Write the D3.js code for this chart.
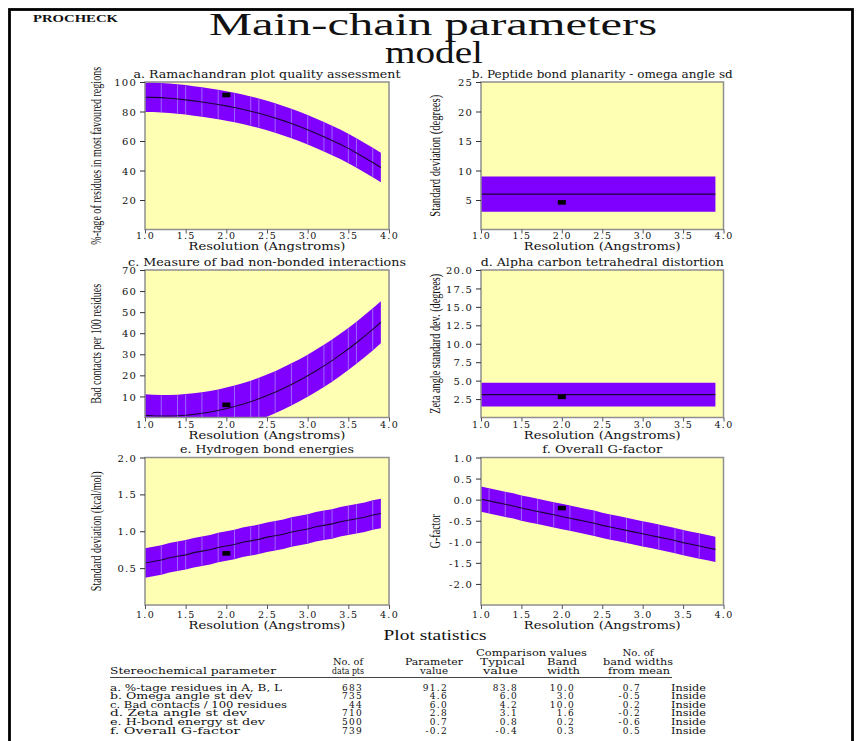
<!DOCTYPE html>
<html>
<head>
<meta charset="utf-8">
<script src="https://cdn.jsdelivr.net/npm/d3@7"></script>
<style>
  html, body { margin: 0; padding: 0; background: #fff; }
  svg { display: block; }
</style>
</head>
<body>
<svg id="chart" width="856" height="741"></svg>
<script>
// ---------------- data ----------------
const resolution = [1.0, 1.1, 1.2, 1.3, 1.4, 1.5, 1.6, 1.7, 1.8, 1.9,
                    2.0, 2.1, 2.2, 2.3, 2.4, 2.5, 2.6, 2.7, 2.8, 2.9,
                    3.0, 3.1, 3.2, 3.3, 3.4, 3.5, 3.6, 3.7, 3.8, 3.9];
const flatResolution = [1.0, 3.9];

// mean curves of the comparison bands
const ramaMean = [89.7, 89.6, 89.4, 89.0, 88.5, 87.9, 87.2, 86.4, 85.6, 84.7,
                  83.8, 82.7, 81.5, 80.2, 78.8, 77.3, 75.6, 73.8, 71.9, 69.8,
                  67.6, 65.3, 62.9, 60.4, 57.8, 55.0, 51.9, 48.7, 45.4, 42.0];
const omegaMean = [6.0, 6.0];
const contactsMean = [1.0, 0.8, 0.7, 0.7, 0.8, 1.1, 1.5, 2.0, 2.6, 3.3,
                      4.2, 5.2, 6.3, 7.5, 8.9, 10.4, 12.0, 13.8, 15.7, 17.7,
                      19.8, 22.1, 24.5, 27.0, 29.7, 32.5, 35.5, 38.6, 41.8, 45.2];
const zetaMean = [3.1, 3.1];
const hbondMean = [0.57, 0.59, 0.61, 0.64, 0.66, 0.68, 0.71, 0.73, 0.75, 0.78,
                   0.80, 0.82, 0.85, 0.87, 0.89, 0.92, 0.94, 0.96, 0.99, 1.01,
                   1.03, 1.06, 1.08, 1.10, 1.13, 1.15, 1.17, 1.19, 1.22, 1.24];
const gfactorMean = [0.01, -0.03, -0.07, -0.11, -0.15, -0.20, -0.24, -0.28, -0.32, -0.36,
                     -0.40, -0.44, -0.48, -0.52, -0.56, -0.61, -0.65, -0.69, -0.73, -0.77,
                     -0.81, -0.85, -0.89, -0.93, -0.97, -1.02, -1.06, -1.10, -1.14, -1.18];

// polygon joins that show as light seams inside the bands
const seamsRama = [1.2, 1.4, 1.5, 1.7, 1.9, 2.1, 2.3, 2.4, 2.6, 2.8, 3.0, 3.2, 3.3, 3.5, 3.6, 3.8];
const seamsContacts = [1.2, 1.4, 1.5, 1.7, 1.9, 2.1, 2.3, 2.4, 2.6, 2.8, 3.0, 3.2, 3.3, 3.5, 3.6, 3.8];
const seamsHbond = [1.2, 1.4, 1.5, 1.7, 1.9, 2.1, 2.3, 2.4, 2.6, 2.8, 3.0, 3.2, 3.3, 3.5, 3.6, 3.8];
const seamsGfactor = [1.1, 1.3, 1.5, 1.7, 1.9, 2.1, 2.4, 2.6, 2.8, 3.0, 3.2, 3.4, 3.5, 3.7];

// plot statistics table
const parameterNames = ["a. %-tage residues in A, B, L", "b. Omega angle st dev",
                        "c. Bad contacts / 100 residues", "d. Zeta angle st dev",
                        "e. H-bond energy st dev", "f. Overall G-factor"];
const dataPoints = [683, 735, 44, 710, 500, 739];
const parameterValue = [91.2, 4.6, 6.0, 2.8, 0.7, -0.2];
const typicalValue = [83.8, 6.0, 4.2, 3.1, 0.8, -0.4];
const bandWidth = [10.0, 3.0, 10.0, 1.6, 0.2, 0.3];
const bandWidthsFromMean = [0.7, -0.5, 0.2, -0.2, -0.6, 0.5];
const verdict = ["Inside", "Inside", "Inside", "Inside", "Inside", "Inside"];
const modelResolution = 2.0;

// panel text and axes
const panelTitles = ["a. Ramachandran plot quality assessment",
                     "b. Peptide bond planarity - omega angle sd",
                     "c. Measure of bad non-bonded interactions",
                     "d. Alpha carbon tetrahedral distortion",
                     "e. Hydrogen bond energies",
                     "f. Overall G-factor"];
const yAxisTitles = ["%-tage of residues in most favoured regions",
                     "Standard deviation (degrees)",
                     "Bad contacts per 100 residues",
                     "Zeta angle standard dev. (degrees)",
                     "Standard deviation (kcal/mol)",
                     "G-factor"];
const yDomains = [[0, 100], [0, 25], [0, 70], [0, 20], [0, 2], [-2.5, 1]];
const yTicks = [[20, 40, 60, 80, 100],
                [5, 10, 15, 20, 25],
                [10, 20, 30, 40, 50, 60, 70],
                [2.5, 5, 7.5, 10, 12.5, 15, 17.5, 20],
                [0.5, 1.0, 1.5, 2.0],
                [-2.0, -1.5, -1.0, -0.5, 0.0, 0.5, 1.0]];
const yTickFormats = ["d", "d", "d", ".1f", ".1f", ".1f"];
const xTicks = [1.0, 1.5, 2.0, 2.5, 3.0, 3.5, 4.0];
const xDomain = [1.0, 4.0];

// ---------------- layout & style ----------------
const TIMES = "'Liberation Serif', 'Times New Roman', serif";
const SCHOOL = "'DejaVu Serif', serif";
const INK = "#111";
const PLOT_BG = "#ffffb3";
const BAND = "#7f00ff";
const SEAM = "#a064ff";
const MEAN = "#1c0038";
const FRAME = "#8f8f8f";

const colLeft = [145, 481], colWidth = [244, 242.5];
const rowTop = [82, 270, 457.5], rowHeight = 147.5;
const tickLabelDrop = [9.5, 10, 12.5];
const xTitleDrop = [20.5, 21, 23.5];
const titleLen = [267, 261, 278, 243, 174, 120];
const yTitleLen = [178, 122, 120, 140, 120, 34];
const yTitleX = [101, 440];

// plain hyphen for negative numbers, as in the printed report
const loc = d3.formatLocale({ decimal: ".", thousands: ",", grouping: [3], currency: ["", ""], minus: "-" });
const f1 = loc.format(".1f");

const svg = d3.select("#chart");

function txt(sel, str, x, y, o) {
  const t = sel.append("text").attr("x", x).attr("y", y).text(str)
    .attr("font-family", o.font || SCHOOL)
    .attr("font-size", o.size || 10)
    .attr("text-anchor", o.anchor || "start")
    .attr("fill", o.fill || INK);
  if (o.len) t.attr("textLength", o.len).attr("lengthAdjust", "spacingAndGlyphs");
  if (o.weight) t.attr("font-weight", o.weight);
  if (o.ls) t.attr("letter-spacing", o.ls);
  return t;
}

// vertical label squeezed to a given length along its baseline
function vtxt(sel, str, x, y, size, len) {
  const t = sel.append("text").attr("x", 0).attr("y", 0).text(str)
    .attr("font-family", TIMES).attr("font-size", size)
    .attr("text-anchor", "middle").attr("fill", INK);
  const natural = t.node().getComputedTextLength() || len;
  t.attr("transform", `translate(${x},${y}) rotate(-90) scale(${len / natural},1)`);
  return t;
}

// page frame
svg.append("rect").attr("x", 9.5).attr("y", 9.5).attr("width", 843).attr("height", 780)
  .attr("fill", "none").attr("stroke", "#000").attr("stroke-width", 2.8);

// headings
txt(svg, "PROCHECK", 33, 21.5, { font: TIMES, size: 11, weight: "bold", len: 85 });
txt(svg, "Main-chain parameters", 433, 35, { font: TIMES, size: 31, anchor: "middle", len: 448 });
txt(svg, "model", 434, 63, { font: TIMES, size: 32, anchor: "middle", len: 98 });

const panels = [
  { res: resolution, mean: ramaMean, seams: seamsRama },
  { res: flatResolution, mean: omegaMean, seams: [] },
  { res: resolution, mean: contactsMean, seams: seamsContacts },
  { res: flatResolution, mean: zetaMean, seams: [] },
  { res: resolution, mean: hbondMean, seams: seamsHbond },
  { res: resolution, mean: gfactorMean, seams: seamsGfactor }
];

panels.forEach((p, i) => {
  const c = i % 2, r = Math.floor(i / 2);
  const L = colLeft[c], W = colWidth[c], T = rowTop[r], H = rowHeight;
  const x = d3.scaleLinear().domain(xDomain).range([L, L + W]);
  const y = d3.scaleLinear().domain(yDomains[i]).range([T + H, T]);
  const bw = bandWidth[i];
  const g = svg.append("g");

  g.append("clipPath").attr("id", "clip" + i)
    .append("rect").attr("x", L).attr("y", T).attr("width", W).attr("height", H);
  g.append("rect").attr("x", L).attr("y", T).attr("width", W).attr("height", H)
    .attr("fill", PLOT_BG);

  const pts = p.res.map((rv, k) => ({ r: rv, m: p.mean[k] }));
  const plot = g.append("g").attr("clip-path", `url(#clip${i})`);

  plot.append("path").datum(pts)
    .attr("d", d3.area().x(d => x(d.r)).y0(d => y(d.m - bw)).y1(d => y(d.m + bw)))
    .attr("fill", BAND);

  plot.selectAll("line.seam").data(p.seams).join("line").attr("class", "seam")
    .each(function (s) {
      const k = d3.bisector(d => d.r).left(pts, s - 1e-6);
      const m = pts[k].m;
      d3.select(this)
        .attr("x1", x(s)).attr("x2", x(s))
        .attr("y1", y(m - bw) - 0.5).attr("y2", y(m + bw) + 0.5);
    })
    .attr("stroke", SEAM).attr("stroke-width", 1);

  plot.append("path").datum(pts)
    .attr("d", d3.line().x(d => x(d.r)).y(d => y(d.m)))
    .attr("fill", "none").attr("stroke", MEAN).attr("stroke-width", 1.1);

  // the model's own value
  plot.append("rect")
    .attr("x", x(modelResolution) - 4).attr("y", y(parameterValue[i]) - 2.3)
    .attr("width", 8).attr("height", 4.6).attr("fill", "#000");

  g.append("rect").attr("x", L).attr("y", T).attr("width", W).attr("height", H)
    .attr("fill", "none").attr("stroke", FRAME).attr("stroke-width", 1.5);

  // axes
  const xa = g.append("g").attr("transform", `translate(0,${T + H})`)
    .call(d3.axisBottom(x).tickValues(xTicks).tickSize(4).tickFormat(f1));
  xa.select(".domain").remove();
  xa.selectAll(".tick line").attr("stroke", "#555");
  xa.selectAll(".tick text").attr("y", tickLabelDrop[r]).attr("dy", null)
    .attr("font-family", SCHOOL).attr("font-size", 9.5).attr("letter-spacing", 1.3).attr("fill", INK);

  const ya = g.append("g").attr("transform", `translate(${L},0)`)
    .call(d3.axisLeft(y).tickValues(yTicks[i]).tickSize(5).tickFormat(loc.format(yTickFormats[i])));
  ya.select(".domain").remove();
  ya.selectAll(".tick line").attr("stroke", "#333");
  ya.selectAll(".tick text").attr("x", -8).attr("dy", "0.36em")
    .attr("font-family", SCHOOL).attr("font-size", 10).attr("letter-spacing", 1.2).attr("fill", INK);

  // titles
  txt(g, panelTitles[i], L + W / 2, T - 4.5, { size: 11, anchor: "middle", len: titleLen[i] });
  txt(g, "Resolution (Angstroms)", L + W / 2, T + H + xTitleDrop[r], { size: 10.5, anchor: "middle", len: 157 });
  vtxt(g, yAxisTitles[i], yTitleX[c], T + H / 2, 15, yTitleLen[i]);
});

// ---------------- plot statistics table ----------------
const tb = svg.append("g");
const TS = 9;
txt(tb, "Plot statistics", 435, 640, { font: TIMES, size: 15, anchor: "middle", len: 103 });
txt(tb, "Comparison values", 531.5, 655.5, { size: TS, anchor: "middle", len: 111 });
txt(tb, "No. of", 638, 655.5, { size: TS, anchor: "middle", len: 31 });
txt(tb, "No. of", 348, 664.5, { size: TS, anchor: "middle", len: 30 });
txt(tb, "Parameter", 434, 664.5, { size: TS, anchor: "middle", len: 58 });
txt(tb, "Typical", 502.5, 664.5, { size: TS, anchor: "middle", len: 45 });
txt(tb, "Band", 562, 664.5, { size: TS, anchor: "middle", len: 30 });
txt(tb, "band widths", 638, 664.5, { size: TS, anchor: "middle", len: 70 });
txt(tb, "Stereochemical parameter", 110, 673.5, { size: TS, len: 166 });
txt(tb, "data pts", 348, 673.5, { size: TS, anchor: "middle", len: 32 });
txt(tb, "value", 434, 673.5, { size: TS, anchor: "middle", len: 28 });
txt(tb, "value", 500.5, 673.5, { size: TS, anchor: "middle", len: 35 });
txt(tb, "width", 563.5, 673.5, { size: TS, anchor: "middle", len: 33 });
txt(tb, "from mean", 639, 673.5, { size: TS, anchor: "middle", len: 62 });
tb.append("line").attr("x1", 110).attr("x2", 672).attr("y1", 677.5).attr("y2", 677.5)
  .attr("stroke", "#444").attr("stroke-width", 1);

const nameLen = [172, 142, 177, 137, 155, 130];
const rowY = d3.scaleLinear().domain([0, 1]).range([690.5, 699.15]);
parameterNames.forEach((name, k) => {
  const yy = rowY(k);
  txt(tb, name, 110, yy, { size: TS, len: nameLen[k] });
  txt(tb, String(dataPoints[k]), 363, yy, { size: TS, anchor: "end", ls: 1.3 });
  txt(tb, f1(parameterValue[k]), 448, yy, { size: TS, anchor: "end", ls: 1.3 });
  txt(tb, f1(typicalValue[k]), 518, yy, { size: TS, anchor: "end", ls: 1.3 });
  txt(tb, f1(bandWidth[k]), 575, yy, { size: TS, anchor: "end", ls: 1.3 });
  txt(tb, f1(bandWidthsFromMean[k]), 641, yy, { size: TS, anchor: "end", ls: 1.3 });
  txt(tb, verdict[k], 671, yy, { size: TS, len: 35 });
});
</script>
</body>
</html>
